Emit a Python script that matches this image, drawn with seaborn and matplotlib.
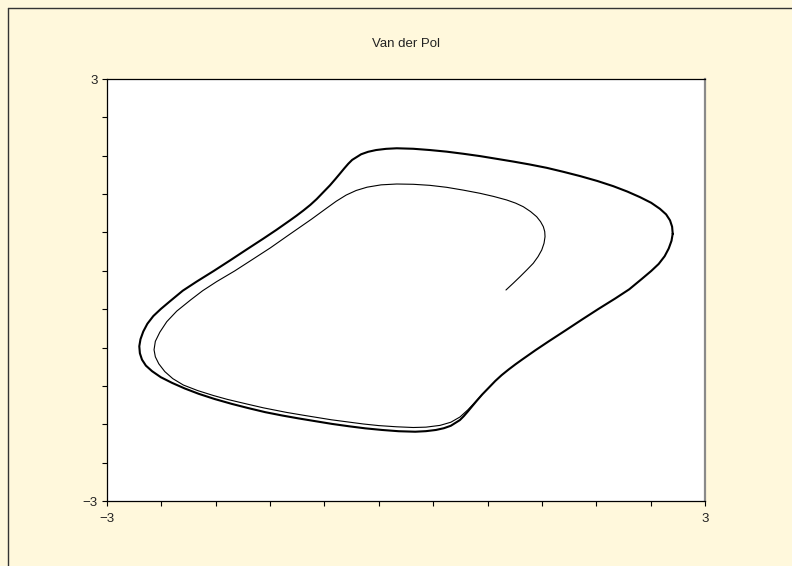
import numpy as np
import pandas as pd
import matplotlib
matplotlib.use("Agg")
import matplotlib.pyplot as plt
from matplotlib.lines import Line2D
import seaborn as sns

# ---- data (x, y in data units) ----
# limit cycle (drawn thick), counter-clockwise from the rightmost point
cycle_x = [2.676, 2.670, 2.649, 2.610, 2.548, 2.460, 2.348, 2.220, 2.080, 1.920,
           1.746, 1.580, 1.412, 1.240, 1.077, 0.910, 0.742, 0.575, 0.408, 0.240,
           0.073, -0.093, -0.200, -0.300, -0.380, -0.450, -0.495, -0.540, -0.579,
           -0.620, -0.662, -0.710, -0.763, -0.830, -0.896, -0.960, -1.030, -1.100,
           -1.164, -1.300, -1.432, -1.600, -1.766, -1.930, -2.100, -2.240, -2.368,
           -2.460, -2.535, -2.595, -2.636, -2.664, -2.676,
           -2.670, -2.649, -2.610, -2.548, -2.460, -2.348, -2.220, -2.080, -1.920,
           -1.746, -1.580, -1.412, -1.240, -1.077, -0.910, -0.742, -0.575, -0.408,
           -0.240, -0.073, 0.093, 0.200, 0.300, 0.380, 0.450, 0.495, 0.540, 0.579,
           0.620, 0.662, 0.710, 0.763, 0.830, 0.896, 0.960, 1.030, 1.100, 1.164,
           1.300, 1.432, 1.600, 1.766, 1.930, 2.100, 2.240, 2.368, 2.460, 2.535,
           2.595, 2.636, 2.664, 2.676]
cycle_y = [0.800, 0.900, 0.990, 1.075, 1.154, 1.240, 1.320, 1.400, 1.476, 1.550,
           1.620, 1.680, 1.737, 1.785, 1.826, 1.865, 1.904, 1.937, 1.967, 1.990,
           2.008, 2.015, 2.007, 1.990, 1.965, 1.930, 1.890, 1.850, 1.795,
           1.728, 1.656, 1.575, 1.488, 1.390, 1.293, 1.210, 1.130, 1.055,
           0.990, 0.855, 0.730, 0.575, 0.420, 0.270, 0.120, -0.010, -0.160,
           -0.270, -0.370, -0.480, -0.590, -0.700, -0.800,
           -0.900, -0.990, -1.075, -1.154, -1.240, -1.320, -1.400, -1.476, -1.550,
           -1.620, -1.680, -1.737, -1.785, -1.826, -1.865, -1.904, -1.937, -1.967,
           -1.990, -2.008, -2.015, -2.007, -1.990, -1.965, -1.930, -1.890, -1.850,
           -1.795, -1.728, -1.656, -1.575, -1.488, -1.390, -1.293, -1.210, -1.130,
           -1.055, -0.990, -0.855, -0.730, -0.575, -0.420, -0.270, -0.120, 0.010,
           0.160, 0.270, 0.370, 0.480, 0.590, 0.700, 0.800]

# transient spiral (drawn thin), from the starting point until it joins the cycle
spiral_x = [1.003, 1.075, 1.144, 1.212, 1.277, 1.325, 1.362, 1.385, 1.395, 1.392,
            1.378, 1.350, 1.311, 1.250, 1.177, 1.100, 1.010, 0.880, 0.742, 0.575,
            0.408, 0.240, 0.073, -0.093, -0.250, -0.390, -0.500, -0.600, -0.700,
            -0.800, -0.950, -1.184, -1.360, -1.545, -1.720, -1.899, -2.040, -2.160,
            -2.300, -2.400, -2.470, -2.515, -2.528, -2.515, -2.480, -2.420, -2.340,
            -2.234, -2.090, -1.933, -1.793, -1.600, -1.432, -1.200, -1.033, -0.750,
            -0.428, -0.273, -0.093, 0.073, 0.200, 0.341, 0.450, 0.542, 0.620,
            0.700, 0.763]
spiral_y = [0.000, 0.095, 0.189, 0.285, 0.380, 0.475, 0.569, 0.665, 0.758, 0.830,
            0.900, 0.972, 1.042, 1.115, 1.184, 1.235, 1.280, 1.330, 1.375, 1.420,
            1.460, 1.488, 1.503, 1.507, 1.495, 1.462, 1.415, 1.350, 1.262,
            1.160, 1.005, 0.775, 0.600, 0.430, 0.270, 0.120, -0.010, -0.140,
            -0.300, -0.450, -0.600, -0.730, -0.850, -0.950, -1.050, -1.160, -1.260,
            -1.351, -1.430, -1.500, -1.555, -1.620, -1.675, -1.740, -1.780, -1.845,
            -1.905, -1.928, -1.945, -1.955, -1.950, -1.925, -1.880, -1.805, -1.705,
            -1.585, -1.488]

title = "Van der Pol"
tick_vals = list(np.linspace(-3, 3, 12))
tick_labels = ["\u22123"] + [""] * 10 + ["3"]

cycle = pd.DataFrame({"x": cycle_x, "y": cycle_y})
spiral = pd.DataFrame({"x": spiral_x, "y": spiral_y})

sns.set_theme(style="white")
plt.rcParams["font.family"] = ["Liberation Sans", "DejaVu Sans"]

bg = "#FFF8DC"
fig = plt.figure(figsize=(7.92, 5.66), dpi=100, facecolor=bg)
ax = fig.add_axes([107 / 792, 1 - 501 / 566, 598 / 792, 422 / 566])
ax.set_facecolor("white")

sns.lineplot(data=spiral, x="x", y="y", sort=False, estimator=None,
             color="black", lw=0.8, ax=ax)
sns.lineplot(data=cycle, x="x", y="y", sort=False, estimator=None,
             color="black", lw=1.5, ax=ax)
for ln in ax.lines:
    ln.set_solid_joinstyle("round")

ax.set_xlim(-3, 3)
ax.set_ylim(-3, 3)
ax.set_xticks(tick_vals)
ax.set_yticks(tick_vals)
ax.set_xticklabels(tick_labels)
ax.set_yticklabels(tick_labels)
ax.set_xlabel("")
ax.set_ylabel("")
ax.tick_params(axis="both", direction="out", length=3.8, width=0.8,
               color="black", labelsize=9.5, labelcolor="#222222")
ax.tick_params(axis="x", pad=5)
ax.tick_params(axis="y", pad=3)
ax.tick_params(left=True, bottom=True)

for s in ["left", "bottom", "top"]:
    ax.spines[s].set_color("black")
    ax.spines[s].set_linewidth(0.9)
ax.spines["right"].set_color("#8a8a8a")
ax.spines["right"].set_linewidth(1.6)

fig.text(406 / 792, 1 - 44 / 566, title, ha="center", va="center",
         fontsize=9.5, color="#222222")

# figure frame (top and left edges)
fig.add_artist(Line2D([7.5 / 792, 7.5 / 792], [0, 1 - 7.5 / 566],
                      transform=fig.transFigure, color="#333333", lw=1.0))
fig.add_artist(Line2D([7.5 / 792, 1], [1 - 7.5 / 566, 1 - 7.5 / 566],
                      transform=fig.transFigure, color="#333333", lw=1.0))

fig.savefig("out.png", dpi=100, facecolor=bg)
